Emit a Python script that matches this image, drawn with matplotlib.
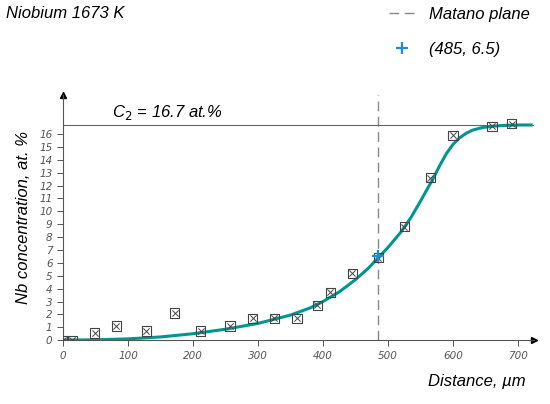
import matplotlib.pyplot as plt
from matplotlib.lines import Line2D

plt.rcParams["font.family"] = ["Liberation Sans", "DejaVu Sans"]

# measured points
dist = [0, 14, 49, 82, 128, 172, 212, 257, 292, 325, 360, 391, 411, 445, 485, 525, 565, 600, 660, 690]
conc = [0, 0, 0.55, 1.1, 0.7, 2.1, 0.7, 1.1, 1.7, 1.7, 1.7, 2.7, 3.7, 5.2, 6.4, 8.8, 12.6, 15.9, 16.6, 16.8]

# fitted curve
fit_x = [0, 50, 100, 150, 200, 250, 300, 350, 380, 400, 425, 450, 470, 485, 500, 520, 535, 550, 560,
         570, 580, 590, 600, 610, 620, 630, 645, 660, 680, 700, 720]
fit_y = [0, 0.03, 0.1, 0.25, 0.5, 0.85, 1.3, 1.95, 2.5, 3.0, 3.75, 4.7, 5.6, 6.4, 7.2, 8.4, 9.5, 10.8, 11.7,
         12.6, 13.6, 14.5, 15.2, 15.7, 16.05, 16.3, 16.5, 16.6, 16.67, 16.7, 16.7]

c2 = 16.7
matano = 485
matano_c = 6.5

gray = "#555555"
tick_font = dict(fontsize=7.5, style="italic", color=gray, family="Liberation Sans Narrow")

fig = plt.figure(figsize=(5.5, 4.04), dpi=100)
ax = fig.add_axes([0.1145, 0.158, 0.857, 0.606])
ax.set_xlim(0, 725)
ax.set_ylim(0, 19)

ax.plot(fit_x, fit_y, color="#009690", lw=2.2, zorder=2)
ax.scatter(dist, conc, marker="s", s=45, facecolors="none", edgecolors="#444444", lw=0.8, zorder=3)
ax.scatter(dist, conc, marker="x", s=20, color="#444444", lw=0.7, zorder=3)
ax.plot([matano], [matano_c], marker="+", ms=8, mew=1.6, color="#1E88E5", zorder=4)
ax.axvline(matano, color="#888888", lw=1, ls=(0, (7, 4)))
ax.axhline(c2, color="#666666", lw=0.8)

for s in ["top", "right"]:
    ax.spines[s].set_visible(False)
for s in ["left", "bottom"]:
    ax.spines[s].set_color(gray)
    ax.spines[s].set_linewidth(0.8)
ax.plot(1, 0, ">k", ms=5, transform=ax.transAxes, clip_on=False)
ax.plot(0, 1, "^k", ms=5, transform=ax.transAxes, clip_on=False)

ax.set_xticks(range(0, 701, 100))
ax.set_yticks(range(0, 17))
ax.tick_params(colors=gray, length=4, width=0.7)
ax.set_xticklabels([str(v) for v in range(0, 701, 100)], **tick_font)
ax.set_yticklabels([str(v) for v in range(0, 17)], **tick_font)

ax.set_ylabel("Nb concentration, at. %", fontsize=12, style="italic", labelpad=6)
fig.text(0.955, 0.045, "Distance, µm", fontsize=12, style="italic", ha="right")
ax.text(75, 17.3, "C$_2$ = 16.7 at.%", fontsize=12, style="italic")
fig.text(0.01, 0.955, "Niobium 1673 K", fontsize=12, style="italic")

fig.legend(handles=[Line2D([], [], color="#888888", lw=1, ls=(0, (7, 4))),
                    Line2D([], [], color="#1E88E5", marker="+", ms=8, mew=1.6, ls="none")],
           labels=["Matano plane", "(485, 6.5)"], loc="upper left", bbox_to_anchor=(0.68, 1.02),
           frameon=False, prop=dict(size=12, style="italic"), labelspacing=1.2, handlelength=1.6)

fig.savefig("out.png", dpi=100)
